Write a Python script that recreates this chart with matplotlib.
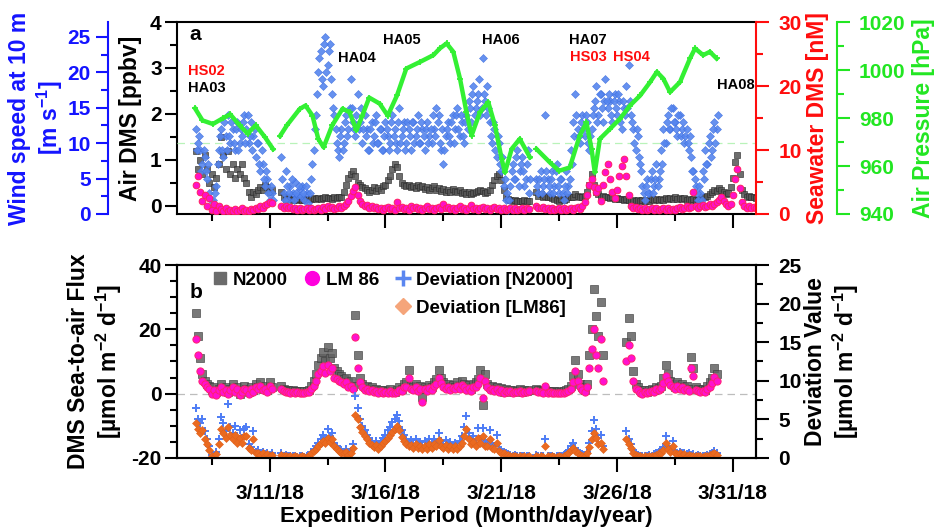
import numpy as np
import matplotlib
matplotlib.use("Agg")
import matplotlib.pyplot as plt
from matplotlib.ticker import MultipleLocator, FixedLocator
from matplotlib.lines import Line2D

plt.rcParams['font.family'] = ['Liberation Sans', 'DejaVu Sans']
plt.rcParams['font.weight'] = 'bold'
plt.rcParams['mathtext.default'] = 'regular'
plt.rcParams['axes.unicode_minus'] = False

# x values are day of March 2018; each leg is sampled every 0.1 day from its start
STEP = 0.1
top_leg_start = [7.8, 11.5, 22.5]
flux_leg_start = [7.8, 11.5, 22.5, 26.4]

# wind speed at 10 m [m s-1]; *_b are the readings taken half a step later
wind_leg1 = [12, 10, 9, 7, 8, 5, 3, 1, 0.5, 4,
             9, 12, 8, 11, 14, 10, 12, 9, 13, 10,
             11, 14, 12, 10, 13, 11, 8, 10, 6, 7,
             4, 5, 2, 3]
wind_leg2 = [8, 3, 6, 2, 4, 3, 4.5, 2.5, 3.5, 4,
             2, 3, 1, 5, 9, 14, 20, 23, 18, 25,
             21, 24, 17, 14, 10, 8, 12, 10, 14, 12,
             19, 13, 11, 17, 13, 10, 14, 12, 9, 13,
             11, 14, 10, 12, 9, 13, 11, 10, 14, 12,
             9, 15, 11, 13, 10, 12, 9, 13, 11, 14,
             10, 12, 9, 13, 11, 10, 12, 15, 14, 9,
             7, 11, 13, 10, 14, 12, 15, 11, 13, 10,
             14, 16, 13, 18, 15, 17, 14, 22, 16, 18,
             13, 10, 12, 8, 10, 6, 4, 2, 0.5, 4,
             7, 5, 9, 6, 8, 4, 7, 3]
wind_leg3 = [5, 3, 6, 4, 14, 5, 3, 6, 4, 7,
             3, 5, 2, 6, 4, 9, 13, 17, 12, 10,
             14, 11, 13, 9, 12, 15, 18, 14, 17, 13,
             19, 15, 16, 13, 17, 14, 16, 12, 15, 18,
             21, 14, 12, 9, 11, 7, 4, 2, 5, 3,
             6, 4, 7, 5, 9, 12, 10, 14, 12, 15,
             13, 11, 14, 12, 10, 12, 9, 8, 6, 4,
             2, 3, 6, 9, 7, 11, 9, 13, 12]
wind_b_leg1 = [9, 11, 6, 9, 6, 7, 2, 2, 3, 7,
               11, 9, 13, 9, 11, 13, 10, 12, 9, 12,
               13, 10, 14, 11, 9, 12, 10, 7, 9, 5,
               6, 3, 4, 2]
wind_b_leg2 = [5, 2, 4, 3, 5, 2, 3, 4, 2.5, 3,
               4, 1.5, 3, 7, 12, 17, 22, 19, 24, 20,
               23, 19, 15, 12, 9, 11, 9, 13, 11, 15,
               15, 12, 14, 12, 15, 12, 11, 9, 12, 10,
               13, 10, 12, 9, 11, 12, 9, 13, 11, 10,
               13, 10, 12, 9, 13, 11, 13, 10, 12, 10,
               13, 11, 12, 10, 12, 14, 11, 13, 10, 12,
               9, 12, 11, 13, 10, 14, 12, 14, 11, 13,
               12, 15, 17, 14, 16, 19, 15, 17, 14, 15,
               11, 13, 9, 11, 7, 8, 5, 3, 2, 6,
               5, 8, 4, 7, 6, 5, 9, 5]
wind_b_leg3 = [4, 5, 3, 5, 6, 4, 5, 3, 6, 4,
               5, 3, 4, 3, 5, 7, 11, 14, 11, 13,
               12, 14, 10, 11, 14, 16, 13, 17, 15, 16,
               16, 17, 14, 16, 15, 17, 13, 16, 14, 15,
               16, 13, 10, 12, 8, 6, 3, 4, 3, 5,
               3, 5, 4, 6, 7, 10, 13, 12, 15, 13,
               12, 14, 11, 13, 11, 10, 11, 6, 5, 3,
               4, 2, 5, 7, 10, 8, 12, 10, 14]

# air DMS [ppbv]
air_leg1 = [1.2, 0.8, 1.0, 0.7, 1.1, 0.8, 0.5, 0.7, 0.4, 0.6,
            0.9, 1.5, 1.1, 0.8, 1.2, 0.7, 0.9, 0.6, 0.8, 0.7,
            0.9, 0.6, 0.5, 0.3, 0.2, 0.3, 0.25, 0.35, 0.4, 0.35,
            0.45, 0.4, 0.3, 0.35]
air_leg2 = [0.3, 0.2, 0.15, 0.2, 0.15, 0.12, 0.15, 0.12, 0.14, 0.12,
            0.13, 0.15, 0.14, 0.15, 0.16, 0.15, 0.17, 0.15, 0.16, 0.18,
            0.16, 0.17, 0.15, 0.18, 0.17, 0.18, 0.2, 0.3, 0.45, 0.6,
            0.7, 0.75, 0.65, 0.5, 0.45, 0.4, 0.38, 0.35, 0.3, 0.35,
            0.4, 0.32, 0.38, 0.35, 0.42, 0.45, 0.55, 0.65, 0.8, 0.9,
            0.85, 0.65, 0.5, 0.45, 0.42, 0.45, 0.4, 0.42, 0.38, 0.45,
            0.4, 0.42, 0.36, 0.4, 0.35, 0.38, 0.42, 0.35, 0.38, 0.32,
            0.36, 0.3, 0.34, 0.3, 0.36, 0.32, 0.3, 0.34, 0.28, 0.3,
            0.26, 0.3, 0.25, 0.28, 0.3, 0.33, 0.35, 0.32, 0.28, 0.3,
            0.35, 0.45, 0.55, 0.65, 0.7, 0.55, 0.35, 0.2, 0.15, 0.12,
            0.1, 0.12, 0.1, 0.11, 0.1, 0.12, 0.1, 0.11]
air_leg3 = [0.3, 0.22, 0.25, 0.2, 0.22, 0.18, 0.2, 0.16, 0.15, 0.12,
            0.1, 0.14, 0.12, 0.15, 0.2, 0.18, 0.2, 0.25, 0.22, 0.2,
            0.18, 0.22, 0.3, 0.45, 0.7, 0.45, 0.3, 0.25, 0.2, 0.22,
            0.18, 0.2, 0.16, 0.18, 0.15, 0.17, 0.14, 0.15, 0.12, 0.14,
            0.12, 0.1, 0.12, 0.1, 0.12, 0.1, 0.12, 0.1, 0.13, 0.11,
            0.14, 0.12, 0.15, 0.13, 0.15, 0.12, 0.16, 0.14, 0.17, 0.15,
            0.18, 0.15, 0.17, 0.14, 0.16, 0.13, 0.15, 0.12, 0.14, 0.12,
            0.13, 0.15, 0.2, 0.18, 0.22, 0.25, 0.3, 0.35, 0.32, 0.38,
            0.35, 0.3, 0.25, 0.28, 0.4, 0.6, 0.95, 1.1, 0.7, 0.35,
            0.25, 0.2, 0.22, 0.18, 0.2, 0.17]

# seawater DMS [nM]
sea_leg1 = [4.5, 6.0, 3.5, 2.0, 3.0, 1.2, 2.5, 0.6, 1.5, 0.5,
            1.2, 0.8, 0.5, 1.0, 0.4, 0.7, 0.5, 0.8, 0.4, 0.6,
            0.9, 0.5, 0.7, 0.4, 0.8, 0.6, 1.0, 0.8, 1.2, 1.0,
            1.4, 1.6, 1.9, 1.7]
sea_leg2 = [1.2, 1.0, 1.3, 0.9, 1.1, 0.8, 1.0, 0.7, 0.9, 0.6,
            0.8, 1.0, 0.7, 0.9, 0.6, 0.8, 1.0, 0.7, 1.1, 0.8,
            1.2, 0.9, 1.1, 0.8, 1.0, 1.2, 1.0, 1.3, 1.6, 2.0,
            2.8, 3.6, 4.2, 3.0, 2.0, 1.5, 1.2, 1.4, 1.0, 1.2,
            0.9, 1.1, 0.8, 1.0, 0.7, 0.9, 1.1, 0.8, 1.0, 0.7,
            1.9, 0.9, 1.1, 0.8, 1.0, 0.7, 1.3, 0.9, 1.1, 0.8,
            1.0, 0.7, 0.9, 1.2, 0.8, 1.0, 0.7, 0.9, 1.1, 0.8,
            1.5, 0.9, 1.1, 0.8, 1.0, 0.7, 0.9, 1.2, 0.8, 1.0,
            0.7, 0.9, 1.4, 0.8, 1.0, 0.7, 0.9, 1.1, 0.8, 1.0,
            0.7, 0.9, 1.1, 0.8, 1.0, 0.7, 0.9, 0.6, 0.8, 1.0,
            0.7, 0.9, 0.6, 0.8, 1.0, 0.7, 0.9, 0.8]
sea_leg3 = [1.2, 1.0, 0.9, 1.1, 0.8, 1.0, 0.7, 0.9, 0.6, 0.8,
            1.0, 0.7, 0.9, 0.6, 0.8, 1.0, 0.7, 0.9, 1.1, 0.8,
            1.2, 1.8, 3.0, 4.5, 5.5, 4.2, 3.5, 4.0, 2.0, 4.5,
            6.5, 7.8, 5.5, 3.5, 2.5, 3.8, 6.0, 7.5, 8.6, 6.0,
            3.0, 1.2, 0.9, 1.1, 0.8, 1.0, 0.7, 0.9, 0.6, 0.8,
            1.0, 0.7, 0.9, 0.6, 0.8, 1.0, 0.7, 0.9, 0.6, 0.8,
            0.7, 0.9, 1.1, 0.8, 1.0, 1.2, 0.9, 1.1, 3.5, 1.3,
            1.0, 1.2, 1.4, 1.1, 1.3, 1.5, 1.2, 1.6, 1.8, 2.2,
            2.6, 2.0, 1.5, 1.2, 1.6, 3.0, 5.5, 7.0, 4.0, 1.8,
            1.2, 1.0, 1.3, 0.9, 1.1, 1.0]

# air pressure [hPa], irregular readings along each leg
pres_day1 = [7.78, 8.1, 8.55, 9.0, 9.3, 9.7, 10.05, 10.4, 10.8, 11.15]
pres_hpa1 = [984, 979, 977.5, 980, 981.5, 977, 973.5, 977, 972, 967]
pres_day2 = [11.45, 11.75, 12.3, 12.55, 12.85, 13.1, 13.33, 13.7, 14.15, 14.45,
             14.75, 15.0, 15.3, 15.75, 16.1, 16.5, 16.9, 17.5, 18.07, 18.35,
             18.64, 18.93, 19.22, 19.5, 19.72, 20.08, 20.44, 20.73, 21.02, 21.16,
             21.45, 21.8, 22.24]
pres_hpa2 = [972.5, 977, 983.8, 985.2, 981, 971.3, 967.8, 976.9, 983.9, 982.4,
             974.8, 981, 988.5, 986, 981, 989.4, 1000.6, 1003.4, 1006.2, 1009,
             1011.1, 1007.6, 996.4, 982.4, 972.7, 982.4, 986.6, 976.9, 962.9, 957.3,
             967.1, 971.3, 963.6]
pres_day3 = [22.52, 23.1, 23.5, 23.96, 24.39, 24.68, 24.9, 25.04, 25.26, 25.7,
             26.13, 26.56, 27.0, 27.43, 27.72, 28.0, 28.29, 28.72, 29.15, 29.37,
             29.72, 30.01, 30.3]
pres_hpa3 = [967.1, 961.5, 958, 959.4, 972.7, 978.2, 967.1, 957.3, 971.3, 975.5,
             979.7, 985.2, 989.4, 995, 999.2, 996.4, 990.8, 995, 1004.8, 1009,
             1006.2, 1007.6, 1004.8]

# DMS sea-to-air flux [umol m-2 d-1]
n2000_leg1 = [25, 18, 11, 6, 4, 3, 2.5, 1, 2, 0.5,
              1.5, 3, 1, 2, 0.5, 1.5, 3, 1, 2, 0,
              1, 2.5, 1.5, 0.5, 2, 1, 3, 2, 3.5, 1.5,
              2.5, 1, 3.5, 2]
n2000_leg2 = [2.5, 1.5, 1, 1.2, 0.8, 1, 0.7, 0.9, 0.6, 0.8,
              0.7, 0.9, 1.2, 2.5, 4, 6, 9, 11, 13, 10,
              14.5, 11, 12.5, 8, 7, 6, 5.5, 4.5, 5, 3.5,
              4, 2.5, 24.5, 12, 5, 3, 2, 2.5, 1.5, 2,
              1, 1.5, 0.8, 1.2, 0.5, 1, 0.7, 1.5, 0.5, 0.5,
              1, 2, 1.5, 3, 3.5, 7.5, 2.5, 2, 3, 1.5,
              2.5, -1, 2.2, 1.5, 2.8, 2, 3.5, 4.5, 7.5, 5,
              3.5, 2.5, 3, 2, 2.8, 2.2, 3.5, 2.5, 4, 3,
              2, 2.8, 1.5, 3, 3.5, 4.5, 7.5, -3.5, 6, 3,
              2, 2.5, 1.5, 2.2, 1, 1.8, 0.5, 1.5, 0.8, 1.2,
              0.5, 1, 0.8, 1.3, 0.6, 1, 0.7, 1.1]
n2000_leg3 = [1.5, 1, 1.2, 0.8, 1, 0.7, 0.9, 0.6, 0.8, 0.5,
              0.7, 0.5, 0.8, 1, 1.5, 2.5, 5.5, 10.5, 6, 3,
              2, 1.2, 3, 12, 20, 32.5, 24, 18, 28.5, 12]
n2000_leg4 = [16, 23.5, 18, 7, 3, 2, 1, 0.5, 1, 0.6,
              1.2, 1.5, 1, 2, 1.8, 2.5, 5, 9, 6, 4,
              3, 2, 3.5, 2.5, 3, 2, 2.5, 1.5, 11.5, 8,
              2, 1.5, 1, 1.5, 1.2, 2.5, 3.5, 5, 8, 6]

lm86_leg1 = [17, 12, 7, 4, 3, 2, 1.5, 0, 1, -0.5,
             1, 2, 0.5, 1, 0, 1, 2, 0.5, 1.5, -0.5,
             0.5, 1.5, 1, 0, 1.5, 0.5, 2, 1.5, 2.5, 1,
             1.5, 0.5, 2.5, 1.5]
lm86_leg2 = [1.5, 0.8, 0.5, 0.6, 0.3, 0.5, 0.2, 0.4, 0.2, 0.3,
             0.2, 0.4, 0.6, 1.5, 2.5, 4, 6, 7, 8.5, 6.5,
             9, 7, 8, 5, 4.5, 4, 3.5, 3, 3.5, 2.2,
             2.5, 1.5, 17.5, 8, 3.5, 2, 1.2, 1.6, 0.8, 1.2,
             0.5, 0.9, 0.3, 0.7, 0.1, 0.5, 0.3, 0.9, 0.2, 0.1,
             0.5, 1.2, 0.9, 2, 2.2, 5, 1.5, 1.2, 2, 0.8,
             1.5, -2.5, 1.4, 0.8, 1.8, 1.2, 2.3, 3, 5, 3.2,
             2.2, 1.5, 2, 1.2, 1.8, 1.4, 2.3, 1.5, 2.6, 2,
             1.2, 1.8, 0.8, 2, 2.2, 3, 5, -1.5, 4, 2,
             1.2, 1.6, 0.8, 1.4, 0.5, 1.1, 0.2, 0.9, 0.4, 0.7,
             0.2, 0.6, 0.4, 0.8, 0.3, 0.6, 0.4, 0.7]
lm86_leg3 = [0.8, 0.4, 0.6, 0.3, 2.5, 0.2, 0.4, 0.1, 0.3, 0.1,
             0.2, 0.1, 0.3, 0.5, 0.9, 1.5, 3.5, 7, 4, 2,
             1.2, 0.6, 2, 8, 14, 20, 12, 8, 17, 4]
lm86_leg4 = [10, 15, 11, 4, 1.5, 1, 0.3, -0.2, 0.4, 0.1,
             0.6, 0.9, 0.5, 1.3, 1.1, 1.7, 3.2, 5.5, 4, 2.7,
             2, 1.3, 2.3, 1.6, 2, 1.2, 1.6, 0.8, 8, 5.5,
             1.2, 0.8, 0.4, 0.8, 0.6, 1.6, 2.2, 3.3, 5.3, 4]

# deviation value [umol m-2 d-1]
dev_n_leg1 = [6.5, 5.0, 4.5, 5.0, 3.5, 2.5, 1.5, 0.4, 0.2, 0.8,
              2.5, 5.3, 4.5, 3.5, 7.0, 4.0, 3.2, 4.2, 2.8, 3.6,
              2.6, 3.8, 4.0, 1.8, 1.4, 3.5, 0.8, 1.0, 0.6, 0.8,
              0.5, 0.7, 0.4, 0.6]
dev_n_leg2 = [0.6, 0.3, 0.4, 0.2, 0.3, 0.2, 0.3, 0.1, 0.2, 0.3,
              0.1, 0.2, 0.4, 0.8, 1.2, 1.6, 2.0, 2.5, 3.0, 2.6,
              3.7, 2.8, 3.2, 2.0, 1.6, 1.2, 1.0, 0.8, 1.1, 0.6,
              0.9, 1.8, 8.0, 6.5, 5.0, 4.2, 3.6, 3.0, 2.6, 2.2,
              1.8, 2.2, 1.6, 2.0, 2.6, 3.0, 3.6, 4.0, 4.6, 5.0,
              5.6, 4.8, 3.6, 3.0, 2.4, 2.0, 2.3, 1.7, 2.4, 1.8,
              2.1, 1.5, 2.2, 1.6, 2.5, 1.8, 2.4, 2.0, 3.2, 2.2,
              1.8, 2.3, 1.6, 2.1, 1.5, 2.0, 1.6, 2.2, 2.8, 4.0,
              5.4, 3.2, 2.4, 2.8, 2.0, 3.9, 2.5, 3.9, 2.2, 2.0,
              3.6, 1.8, 1.5, 3.0, 1.2, 1.0, 0.8, 0.6, 0.5, 0.4,
              0.3, 0.4, 0.2, 0.3, 0.2, 0.3, 0.2, 0.3]
dev_n_leg3 = [0.4, 0.2, 0.3, 0.2, 2.4, 0.3, 0.2, 0.3, 0.1, 0.2,
              0.3, 0.2, 0.4, 0.6, 0.9, 1.5, 1.9, 1.3, 0.9, 0.6,
              0.5, 0.4, 0.8, 2.0, 3.5, 4.9, 3.8, 2.6, 3.0, 1.6]
dev_n_leg4 = [3.5, 2.5, 1.8, 1.0, 0.6, 0.4, 0.3, 0.2, 0.3, 0.2,
              0.4, 0.3, 0.5, 0.6, 0.8, 1.0, 1.4, 2.8, 1.6, 1.2,
              2.2, 0.9, 0.7, 0.8, 0.6, 0.7, 0.5, 0.6, 0.4, 0.5,
              0.3, 0.4, 0.3, 0.2, 0.3, 0.4, 0.5, 0.7, 0.9, 0.6]

dev_l_leg1 = [4.5, 3.8, 3.2, 3.6, 2.5, 1.8, 1.0, 0.3, 0.1, 0.5,
              1.8, 3.8, 3.3, 2.6, 4.0, 3.0, 2.4, 3.0, 2.0, 2.6,
              1.9, 2.8, 2.8, 1.3, 1.0, 2.5, 0.6, 0.7, 0.4, 0.6,
              0.3, 0.5, 0.3, 0.4]
dev_l_leg2 = [0.4, 0.2, 0.3, 0.1, 0.2, 0.1, 0.2, 0.1, 0.1, 0.2,
              0.1, 0.1, 0.3, 0.6, 0.9, 1.2, 1.5, 1.9, 2.2, 1.9,
              2.6, 2.1, 2.4, 1.5, 1.2, 0.9, 0.7, 0.6, 0.8, 0.4,
              0.6, 1.3, 5.6, 5.0, 4.0, 3.4, 2.9, 2.4, 2.0, 1.7,
              1.4, 1.7, 1.2, 1.5, 1.9, 2.2, 2.6, 3.0, 3.4, 3.7,
              4.1, 3.6, 2.7, 2.2, 1.8, 1.5, 1.7, 1.3, 1.8, 1.3,
              1.6, 1.1, 1.6, 1.2, 1.8, 1.3, 1.8, 1.5, 2.3, 1.6,
              1.3, 1.7, 1.2, 1.6, 1.1, 1.5, 1.2, 1.6, 2.0, 2.9,
              3.8, 2.4, 1.8, 2.1, 1.5, 2.6, 1.9, 2.8, 1.6, 1.5,
              2.4, 1.3, 1.1, 2.0, 0.9, 0.7, 0.6, 0.4, 0.4, 0.3,
              0.2, 0.3, 0.1, 0.2, 0.1, 0.2, 0.1, 0.2]
dev_l_leg3 = [0.3, 0.1, 0.2, 0.1, 1.6, 0.2, 0.1, 0.2, 0.1, 0.1,
              0.2, 0.1, 0.3, 0.4, 0.6, 1.0, 1.3, 0.9, 0.6, 0.4,
              0.3, 0.3, 0.6, 1.4, 2.4, 3.3, 2.6, 1.8, 2.0, 1.1]
dev_l_leg4 = [2.4, 1.8, 1.3, 0.7, 0.4, 0.3, 0.2, 0.1, 0.2, 0.1,
              0.3, 0.2, 0.3, 0.4, 0.6, 0.7, 1.0, 1.9, 1.1, 0.8,
              1.5, 0.6, 0.5, 0.6, 0.4, 0.5, 0.3, 0.4, 0.3, 0.3,
              0.2, 0.3, 0.2, 0.1, 0.2, 0.3, 0.4, 0.5, 0.6, 0.4]

date_ticks = [11, 16, 21, 26, 31]
date_labels = ['3/11/18', '3/16/18', '3/21/18', '3/26/18', '3/31/18']
date_minor = [8.5, 13.5, 18.5, 23.5, 28.5]

BLUE, RED, GREEN = '#1414ff', '#ff0d0d', '#22e622'


def leg_days(start, vals):
    return start + STEP * np.arange(len(vals))


def dots(ax, starts, legs, **kw):
    for s, v in zip(starts, legs):
        ax.plot(leg_days(s, v), v, ls='none', **kw)


def yticks(ax, color, major, minor, pad):
    ax.yaxis.set_major_locator(MultipleLocator(major))
    ax.yaxis.set_minor_locator(MultipleLocator(minor))
    ax.tick_params(axis='y', which='major', length=9, width=1.5, colors=color,
                   labelsize=15, pad=pad)
    ax.tick_params(axis='y', which='minor', length=5, width=1.5, colors=color)


def xticks(ax, labels):
    ax.set_xlim(7, 32)
    ax.xaxis.set_major_locator(FixedLocator(date_ticks))
    ax.xaxis.set_minor_locator(FixedLocator(date_minor))
    ax.set_xticklabels(date_labels if labels else [])
    ax.tick_params(axis='x', which='major', length=10, width=1.5, labelsize=15, pad=9)
    ax.tick_params(axis='x', which='minor', length=5, width=1.5)


fig = plt.figure(figsize=(9.34, 5.28), dpi=100)

# ---------------- panel a ----------------
ax_a = fig.add_axes([0.1895, 0.5947, 0.6199, 0.3636])
ax_w = ax_a.twinx()
ax_s = ax_a.twinx()
ax_p = ax_a.twinx()

for sp in ax_a.spines.values():
    sp.set_linewidth(1.5)
ax_a.spines['right'].set_visible(False)
for ax in (ax_w, ax_s, ax_p):
    for sp in ax.spines.values():
        sp.set_visible(False)

ax_w.spines['left'].set_visible(True)
ax_w.spines['left'].set_position(('outward', 50))
ax_w.spines['left'].set_color(BLUE)
ax_w.spines['left'].set_linewidth(1.5)
ax_w.yaxis.set_ticks_position('left')

ax_s.spines['right'].set_visible(True)
ax_s.spines['right'].set_color(RED)
ax_s.spines['right'].set_linewidth(1.5)

ax_p.spines['right'].set_visible(True)
ax_p.spines['right'].set_position(('outward', 58))
ax_p.spines['right'].set_color(GREEN)
ax_p.spines['right'].set_linewidth(1.5)

dots(ax_a, top_leg_start, [air_leg1, air_leg2, air_leg3], marker='s', ms=4.8,
     mfc='#555555', mec='#2a2a2a', mew=0.5, alpha=0.85)
ax_w.axhline(10, color='#b9f3b9', lw=0.9, ls=(0, (6, 4)))
wind_style = dict(marker='D', ms=4.2, mfc='#5585ee', mec='#3f6fe0', mew=0.4, alpha=0.9)
dots(ax_w, top_leg_start, [wind_leg1, wind_leg2, wind_leg3], **wind_style)
dots(ax_w, [s + STEP / 2 for s in top_leg_start],
     [wind_b_leg1, wind_b_leg2, wind_b_leg3], **wind_style)
dots(ax_s, top_leg_start, [sea_leg1, sea_leg2, sea_leg3], marker='o', ms=4.8,
     mfc='#ff10c8', mec='#ff2060', mew=0.7)
for d, p in [(pres_day1, pres_hpa1), (pres_day2, pres_hpa2), (pres_day3, pres_hpa3)]:
    ax_p.plot(d, p, color='#33f033', lw=3.2, marker='+', ms=5, mew=1.3)

ax_a.set_ylim(-0.18, 4)
ax_w.set_ylim(0, 27.1)
ax_s.set_ylim(0, 30)
ax_p.set_ylim(940, 1020)
yticks(ax_a, 'black', 1, 0.5, 2)
yticks(ax_w, BLUE, 5, 2.5, 3)
yticks(ax_s, RED, 10, 5, 7)
yticks(ax_p, GREEN, 20, 10, 7)
xticks(ax_a, False)

ax_a.text(-0.081, 0.5, 'Air DMS [ppbv]', transform=ax_a.transAxes, rotation=90,
          ha='center', va='center', fontsize=16.5)
ax_a.text(-0.243, 0.5, 'Wind speed at 10 m\n[m s$^{-1}$]', transform=ax_a.transAxes,
          rotation=90, ha='center', va='center', multialignment='center',
          fontsize=16.5, color=BLUE, linespacing=1.15)
ax_a.text(1.107, 0.5, 'Seawater DMS [nM]', transform=ax_a.transAxes, rotation=90,
          ha='center', va='center', fontsize=16.5, color=RED)
ax_a.text(1.29, 0.5, 'Air Pressure [hPa]', transform=ax_a.transAxes, rotation=90,
          ha='center', va='center', fontsize=16.5, color=GREEN)

ax_p.text(7.55, 3.72, 'a', transform=ax_a.transData, fontsize=15, va='center')
station_labels = [('HS02', 7.47, 2.93, RED), ('HA03', 7.47, 2.56, 'black'),
                  ('HA04', 13.95, 3.21, 'black'), ('HA05', 15.9, 3.6, 'black'),
                  ('HA06', 20.17, 3.6, 'black'), ('HA07', 23.93, 3.6, 'black'),
                  ('HS03', 23.97, 3.23, RED), ('HS04', 25.83, 3.23, RED),
                  ('HA08', 30.32, 2.62, 'black')]
for name, x, y, c in station_labels:
    ax_p.text(x, y, name, transform=ax_a.transData, fontsize=10.5, color=c,
              va='center', ha='left')

# ---------------- panel b ----------------
ax_b = fig.add_axes([0.1895, 0.1326, 0.6199, 0.3655])
ax_d = ax_b.twinx()
for sp in list(ax_b.spines.values()) + list(ax_d.spines.values()):
    sp.set_linewidth(1.5)

ax_b.axhline(0, color='#bdbdbd', lw=0.9, ls=(0, (6, 4)))
dots(ax_b, flux_leg_start, [n2000_leg1, n2000_leg2, n2000_leg3, n2000_leg4],
     marker='s', ms=5.2, mfc='#626262', mec='#3a3a3a', mew=0.5, alpha=0.85)
dots(ax_b, flux_leg_start, [lm86_leg1, lm86_leg2, lm86_leg3, lm86_leg4],
     marker='o', ms=5.2, mfc='#ff10d0', mec='#ff2070', mew=0.7)
dots(ax_d, flux_leg_start, [dev_n_leg1, dev_n_leg2, dev_n_leg3, dev_n_leg4],
     marker='+', ms=5.5, mew=1.4, color='#4d7cf5')
dots(ax_d, flux_leg_start, [dev_l_leg1, dev_l_leg2, dev_l_leg3, dev_l_leg4],
     marker='D', ms=4, mfc='#ea6a20', mec='#e0601a', mew=0.4)

ax_b.set_ylim(-20, 40)
ax_d.set_ylim(0, 25)
yticks(ax_b, 'black', 20, 5, 2)
yticks(ax_d, 'black', 5, 2.5, 7)
xticks(ax_b, True)

ax_b.text(-0.141, 0.5, 'DMS Sea-to-air Flux\n[µmol m$^{-2}$ d$^{-1}$]',
          transform=ax_b.transAxes, rotation=90, ha='center', va='center',
          multialignment='center', fontsize=16.5, linespacing=1.15)
ax_b.text(1.132, 0.5, 'Deviation Value\n[µmol m$^{-2}$ d$^{-1}$]',
          transform=ax_b.transAxes, rotation=90, ha='center', va='center',
          multialignment='center', fontsize=16.5, linespacing=1.15)
ax_b.text(0.5, -0.305, 'Expedition Period (Month/day/year)', transform=ax_b.transAxes,
          ha='center', va='center', fontsize=16)
ax_d.text(7.55, 31.3, 'b', transform=ax_b.transData, fontsize=15, va='center')

blank = Line2D([], [], ls='none')
handles = [Line2D([], [], ls='none', marker='s', ms=9, mfc='#6b6b6b', mec='#6b6b6b'),
           blank,
           Line2D([], [], ls='none', marker='o', ms=10, mfc='#ff00dd', mec='#ff00dd'),
           blank,
           Line2D([], [], ls='none', marker='+', ms=11, mew=2.5, color='#5a86f0'),
           Line2D([], [], ls='none', marker='D', ms=8, mfc='#f5a57a', mec='#f5a57a')]
labels = ['N2000', '', 'LM 86', '', 'Deviation [N2000]', 'Deviation [LM86]']
ax_d.legend(handles, labels, ncol=3, loc='upper left', bbox_to_anchor=(0.045, 1.015),
            frameon=False, prop={'weight': 'bold', 'size': 13.5}, handlelength=0.8,
            handletextpad=0.3, columnspacing=0.9, labelspacing=0.6, borderaxespad=0.1)

fig.savefig('out.png', dpi=100)
